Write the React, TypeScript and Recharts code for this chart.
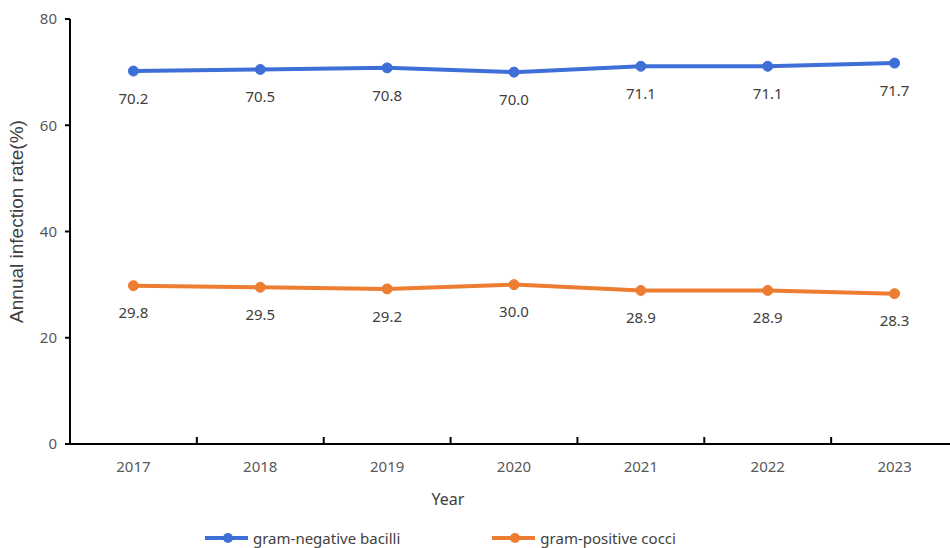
import {
  LineChart,
  Line,
  XAxis,
  YAxis,
  LabelList,
  Legend,
} from 'recharts'

const YEARS = ['2017', '2018', '2019', '2020', '2021', '2022', '2023']
const GRAM_NEGATIVE = [70.2, 70.5, 70.8, 70.0, 71.1, 71.1, 71.7]
const GRAM_POSITIVE = [29.8, 29.5, 29.2, 30.0, 28.9, 28.9, 28.3]
const Y_TICKS = [0, 20, 40, 60, 80]
const SERIES_NAMES = ['gram-negative bacilli', 'gram-positive cocci']

const BLUE = '#3d6fd6'
const ORANGE = '#ed7d31'
const FONT = '"Noto Sans", sans-serif'

const data = YEARS.map((year, i) => ({
  idx: i,
  year,
  neg: GRAM_NEGATIVE[i],
  pos: GRAM_POSITIVE[i],
}))

// year ticks sit at band centres, the short tick marks at band edges
const centerTicks = YEARS.map((_, i) => i)
const edgeTicks = YEARS.slice(1).map((_, i) => i + 0.5)

const LegendItem = ({ color, label, gap }: { color: string; label: string; gap: number }) => (
  <span style={{ display: 'inline-flex', alignItems: 'center', marginRight: gap }}>
    <svg width={44} height={12} style={{ marginRight: 4 }}>
      <line x1={0} y1={6} x2={43} y2={6} stroke={color} strokeWidth={4} />
      <circle cx={23} cy={6} r={5} fill={color} />
    </svg>
    <span style={{ fontSize: 15, color: '#404040', fontFamily: FONT, lineHeight: '16px' }}>{label}</span>
  </span>
)

const renderLegend = () => (
  <div style={{ paddingLeft: 205, height: 20, display: 'flex', alignItems: 'center' }}>
    <LegendItem color={BLUE} label={SERIES_NAMES[0]} gap={92} />
    <LegendItem color={ORANGE} label={SERIES_NAMES[1]} gap={0} />
  </div>
)

export default function App() {
  return (
    <div style={{ position: 'absolute', left: 0, top: 0, width: 950, height: 548, overflow: 'hidden', background: '#fff' }}>
      <LineChart
        width={960}
        height={548}
        data={data}
        margin={{ top: 19, right: 2, left: 0, bottom: 0 }}
      >
        <XAxis
          xAxisId="edges"
          type="number"
          dataKey="idx"
          domain={[-0.5, 6.5]}
          ticks={edgeTicks}
          mirror
          height={1}
          tick={() => <g />}
          axisLine={false}
          tickSize={7}
          tickLine={{ stroke: '#000', strokeWidth: 2 }}
        />
        <XAxis
          xAxisId="years"
          type="number"
          dataKey="idx"
          domain={[-0.5, 6.5]}
          ticks={centerTicks}
          tickFormatter={(v: number) => YEARS[v]}
          interval={0}
          height={84}
          tickLine={false}
          tickMargin={11}
          axisLine={{ stroke: '#000', strokeWidth: 2 }}
          tick={{ fontSize: 15, fill: '#595959', fontFamily: FONT }}
          label={{
            value: 'Year',
            position: 'insideTop',
            offset: 50,
            dx: -66,
            fontSize: 16,
            fill: '#404040',
            fontFamily: FONT,
          }}
        />
        <YAxis
          domain={[0, 80]}
          ticks={Y_TICKS}
          width={70}
          tickSize={5}
          tickMargin={8}
          axisLine={{ stroke: '#000', strokeWidth: 2 }}
          tickLine={{ stroke: '#000', strokeWidth: 2 }}
          tick={{ fontSize: 15, fill: '#595959', fontFamily: FONT }}
          label={{
            value: 'Annual infection rate(%)',
            angle: -90,
            position: 'insideLeft',
            offset: 16,
            dy: -10,
            style: { textAnchor: 'middle' },
            fontSize: 19,
            fill: '#404040',
            fontFamily: 'Liberation Sans, Arial, sans-serif',
          }}
        />
        <Legend verticalAlign="bottom" content={renderLegend} />
        <Line
          xAxisId="years"
          type="linear"
          dataKey="neg"
          name={SERIES_NAMES[0]}
          stroke={BLUE}
          strokeWidth={4}
          dot={{ r: 5, fill: BLUE, stroke: BLUE, strokeWidth: 1 }}
          isAnimationActive={false}
        >
          <LabelList dataKey="neg" position="bottom" offset={22} fontSize={15} fill="#404040" fontFamily={FONT} formatter={(v: number) => v.toFixed(1)} />
        </Line>
        <Line
          xAxisId="years"
          type="linear"
          dataKey="pos"
          name={SERIES_NAMES[1]}
          stroke={ORANGE}
          strokeWidth={4}
          dot={{ r: 5, fill: ORANGE, stroke: ORANGE, strokeWidth: 1 }}
          isAnimationActive={false}
        >
          <LabelList dataKey="pos" position="bottom" offset={22} fontSize={15} fill="#404040" fontFamily={FONT} formatter={(v: number) => v.toFixed(1)} />
        </Line>
      </LineChart>
    </div>
  )
}
